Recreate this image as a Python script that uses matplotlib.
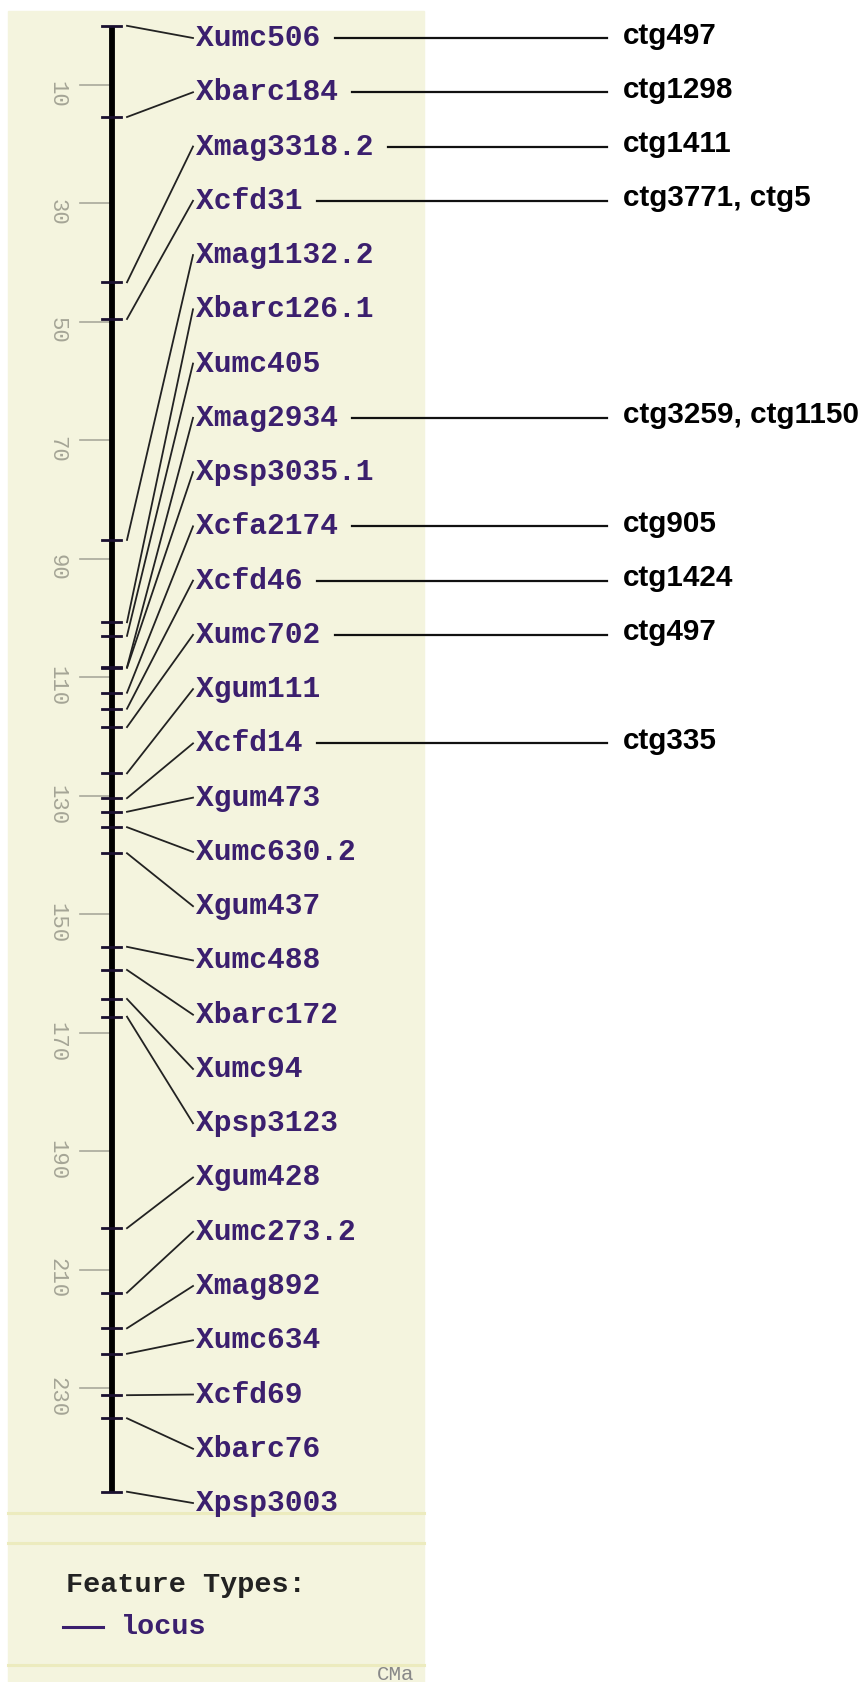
import numpy as np
import matplotlib
matplotlib.use("Agg")
import matplotlib.pyplot as plt
from matplotlib.patches import Rectangle

# marker names (top to bottom) and map positions in cM
markers = ["Xumc506", "Xbarc184", "Xmag3318.2", "Xcfd31", "Xmag1132.2",
           "Xbarc126.1", "Xumc405", "Xmag2934", "Xpsp3035.1", "Xcfa2174",
           "Xcfd46", "Xumc702", "Xgum111", "Xcfd14", "Xgum473", "Xumc630.2",
           "Xgum437", "Xumc488", "Xbarc172", "Xumc94", "Xpsp3123", "Xgum428",
           "Xumc273.2", "Xmag892", "Xumc634", "Xcfd69", "Xbarc76", "Xpsp3003"]
positions = [0.0, 15.4, 43.3, 49.5, 86.8,
             100.7, 103.0, 108.3, 108.4, 112.6,
             115.3, 118.4, 126.2, 130.4, 132.7, 135.3,
             139.7, 155.5, 159.4, 164.3, 167.3, 203.0,
             213.9, 219.9, 224.2, 231.2, 235.1, 247.5]

# contigs anchored to some markers
contigs = {"Xumc506": "ctg497", "Xbarc184": "ctg1298", "Xmag3318.2": "ctg1411",
           "Xcfd31": "ctg3771, ctg5", "Xmag2934": "ctg3259, ctg1150",
           "Xcfa2174": "ctg905", "Xcfd46": "ctg1424", "Xumc702": "ctg497",
           "Xcfd14": "ctg335"}

scale_ticks = [10, 30, 50, 70, 90, 110, 130, 150, 170, 190, 210, 230]

# layout: pixels per cM and where 0 cM sits on the page
W, H = 864, 1682
px_per_cm = 5.923
y0_px = 25.8
slot_first, slot_step = 2.06, 9.161

purple = "#3b1f6e"
mono = ["Liberation Mono", "DejaVu Sans Mono"]

fig = plt.figure(figsize=(W / 100, H / 100), dpi=100)

# page background / panel
bg = fig.add_axes([0, 0, 1, 1])
bg.set_xlim(0, W)
bg.set_ylim(H, 0)
bg.axis("off")
bg.add_patch(Rectangle((8, 11), 416, H - 11, color="#f4f4de", zorder=0))
for yb in [1513, 1543, 1665]:
    bg.plot([8, 424], [yb, yb], color="#ecebbe", lw=2.2, zorder=1)
bg.text(66, 1585, "Feature Types:", family=mono, weight="bold", fontsize=20.5,
        color="#222222", va="center")
bg.plot([63, 103], [1627, 1627], color=purple, lw=2.2)
bg.text(121, 1627, "locus", family=mono, weight="bold", fontsize=20.5,
        color=purple, va="center")
bg.text(377, 1674, "CMa", family=mono, fontsize=15, color="#888888", va="center")

# map axes: y in cM
ax = fig.add_axes([0, 0, 1, 1])
ax.patch.set_visible(False)
ax.set_xlim(0, W)
ax.set_ylim((H - y0_px) / px_per_cm, -y0_px / px_per_cm)
ax.axis("off")

# chromosome bar
ax.plot([112, 112], [0, max(positions)], color="black", lw=4.2,
        solid_capstyle="butt", zorder=3)

# scale ticks and labels
for t in scale_ticks:
    ax.plot([80, 112], [t, t], color="#a9a99b", lw=1.2, zorder=2)
    ax.text(57, t + 1.5, str(t), rotation=270, family=mono, fontsize=16,
            color="#a5a596", ha="center", va="center")

# markers, connectors, labels
slots = slot_first + slot_step * np.arange(len(markers))
for name, pos, ys in zip(markers, positions, slots):
    ax.plot([102, 121], [pos, pos], color="#1a1030", lw=2.0, zorder=4)
    ax.plot([127, 193], [pos, ys], color="#222222", lw=1.3, zorder=2)
    ax.text(196, ys, name, family=mono, weight="bold", fontsize=21.3,
            color=purple, va="center", ha="left")
    if name in contigs:
        x_start = 196 + len(name) * 17.8 + 14
        ax.plot([x_start, 607], [ys, ys], color="#111111", lw=1.6)
        ax.text(623, ys - 0.4, contigs[name], family=["Liberation Sans", "DejaVu Sans"],
                weight="bold", fontsize=21.3, color="black", va="center", ha="left")

fig.savefig("out.png", dpi=100, facecolor="white")
